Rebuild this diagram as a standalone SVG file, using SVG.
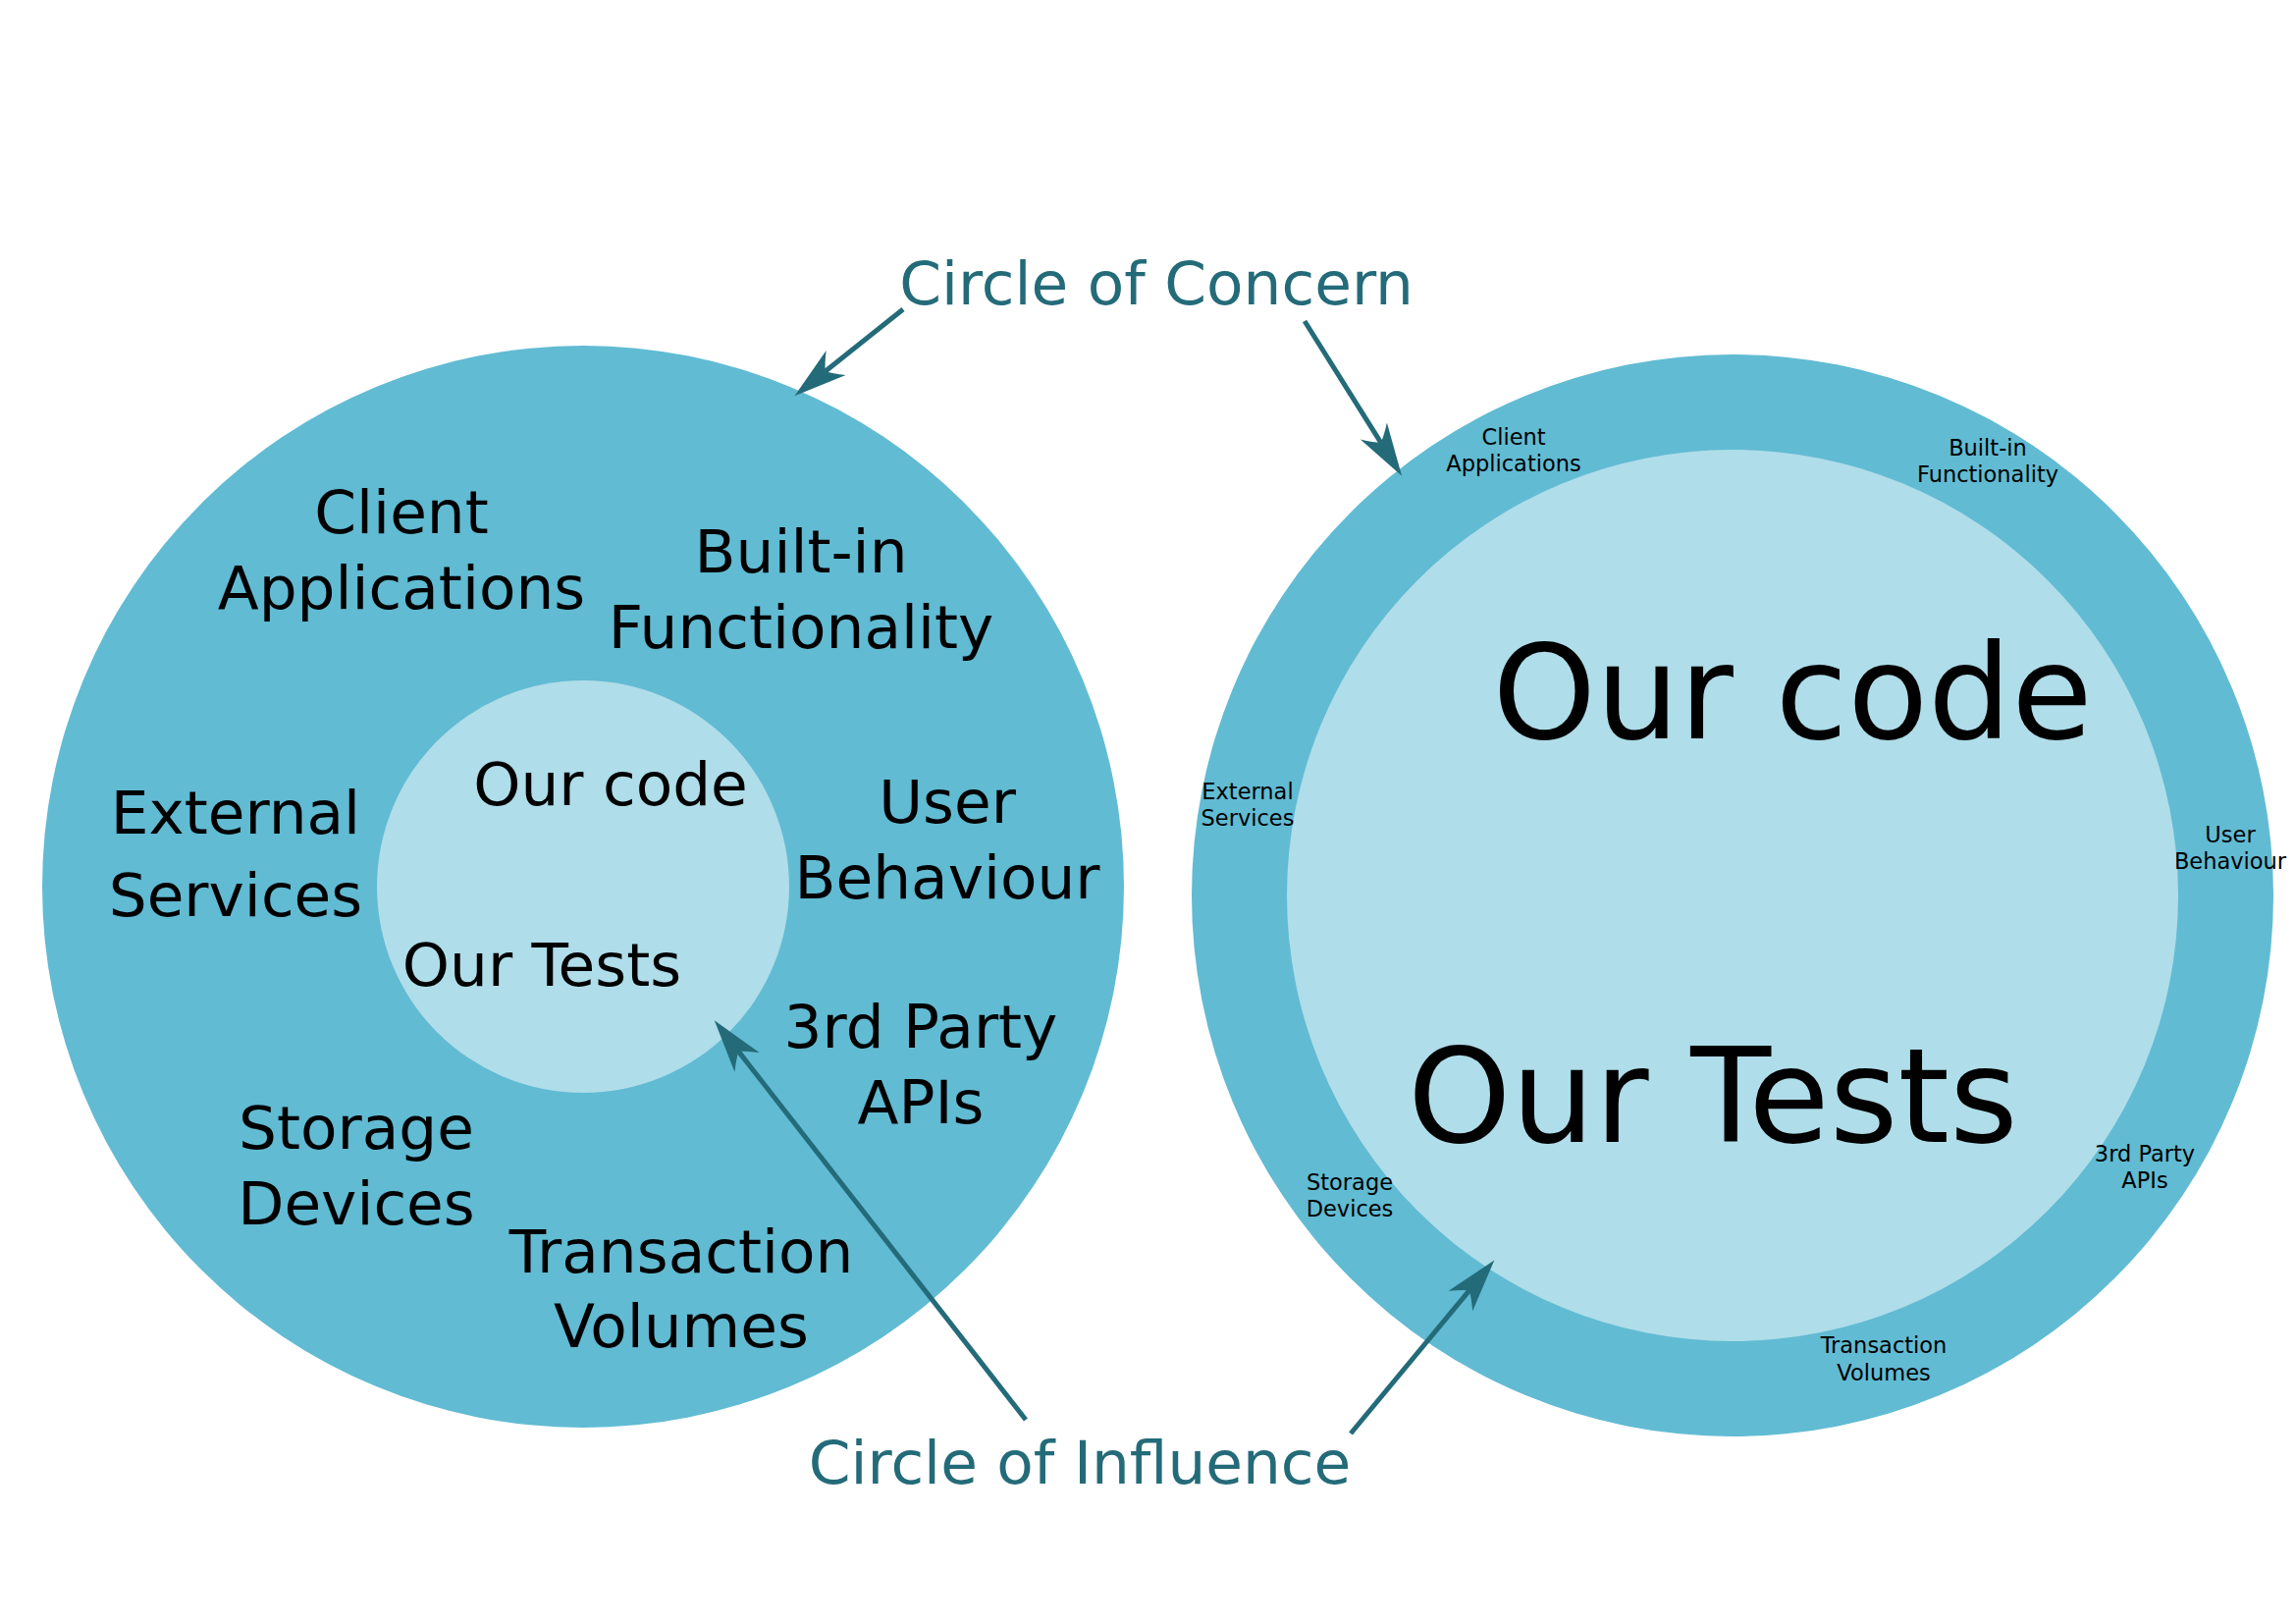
<svg xmlns="http://www.w3.org/2000/svg" width="2339" height="1654" viewBox="0 0 2339 1654">
<style>
text{font-family:"DejaVu Sans","Liberation Sans",sans-serif;text-anchor:middle;fill:#000}
.l{font-size:61.3px}
.s{font-size:22.5px}
.b{font-size:134px}
.t{font-size:61.3px;fill:#246b79}
.outer{fill:#61bbd3}
.inner{fill:#afdde9}
.arr{stroke:#246b79;stroke-width:5;fill:none;marker-end:url(#ah)}
</style>
<defs>
<marker id="ah" markerUnits="userSpaceOnUse" markerWidth="80" markerHeight="40" viewBox="-20 -20 80 40" refX="0" refY="0" orient="auto" overflow="visible">
<path d="M40,0 L-14,-16 Q-4,-6 0,0 Q-4,6 -14,16 Z" fill="#246b79"/>
</marker>
</defs>
<rect width="2339" height="1654" fill="#fff"/>
<g id="left-concern"><circle class="outer" cx="594" cy="903" r="551"/></g>
<g id="left-influence"><circle class="inner" cx="594" cy="903" r="210"/></g>
<g id="right-concern"><circle class="outer" cx="1765" cy="912" r="551"/></g>
<g id="right-influence"><circle class="inner" cx="1765" cy="912" r="454"/></g>

<g id="l-client"><text class="l" x="409" y="543">Client</text><text class="l" x="409" y="620">Applications</text></g>
<g id="l-builtin"><text class="l" x="816" y="583">Built-in</text><text class="l" x="816" y="660">Functionality</text></g>
<g id="l-ourcode"><text class="l" x="622" y="820">Our code</text></g>
<g id="l-external"><text class="l" x="240" y="849">External</text><text class="l" x="240" y="933">Services</text></g>
<g id="l-user"><text class="l" x="965" y="838">User</text><text class="l" x="965" y="915">Behaviour</text></g>
<g id="l-ourtests"><text class="l" x="552" y="1004">Our Tests</text></g>
<g id="l-3rdparty"><text class="l" x="938" y="1067">3rd Party</text><text class="l" x="938" y="1144">APIs</text></g>
<g id="l-storage"><text class="l" x="363" y="1170">Storage</text><text class="l" x="363" y="1247">Devices</text></g>
<g id="l-transaction"><text class="l" x="694" y="1296">Transaction</text><text class="l" x="694" y="1372">Volumes</text></g>

<g id="r-client"><text class="s" x="1542" y="453">Client</text><text class="s" x="1542" y="480">Applications</text></g>
<g id="r-builtin"><text class="s" x="2025" y="464">Built-in</text><text class="s" x="2025" y="491">Functionality</text></g>
<g id="r-external"><text class="s" x="1271" y="814">External</text><text class="s" x="1271" y="841">Services</text></g>
<g id="r-user"><text class="s" x="2272" y="858">User</text><text class="s" x="2272" y="885">Behaviour</text></g>
<g id="r-3rdparty"><text class="s" x="2185" y="1183">3rd Party</text><text class="s" x="2185" y="1210">APIs</text></g>
<g id="r-storage"><text class="s" x="1375" y="1212">Storage</text><text class="s" x="1375" y="1239">Devices</text></g>
<g id="r-transaction"><text class="s" x="1919" y="1378">Transaction</text><text class="s" x="1919" y="1406">Volumes</text></g>
<g id="r-ourcode"><text class="b" x="1826" y="752">Our code</text></g>
<g id="r-ourtests"><text class="b" x="1745" y="1163">Our Tests</text></g>

<g id="t-concern"><text class="t" x="1178" y="310">Circle of Concern</text></g>
<g id="t-influence"><text class="t" x="1100" y="1511">Circle of Influence</text></g>

<g id="connectors">
<line class="arr" x1="920" y1="315" x2="840.7" y2="378.3"/>
<line class="arr" x1="1329" y1="327" x2="1406.8" y2="450.8"/>
<line class="arr" x1="1045" y1="1446" x2="752.4" y2="1070.9"/>
<line class="arr" x1="1376" y1="1460" x2="1496.8" y2="1314.3"/>
</g>
</svg>
